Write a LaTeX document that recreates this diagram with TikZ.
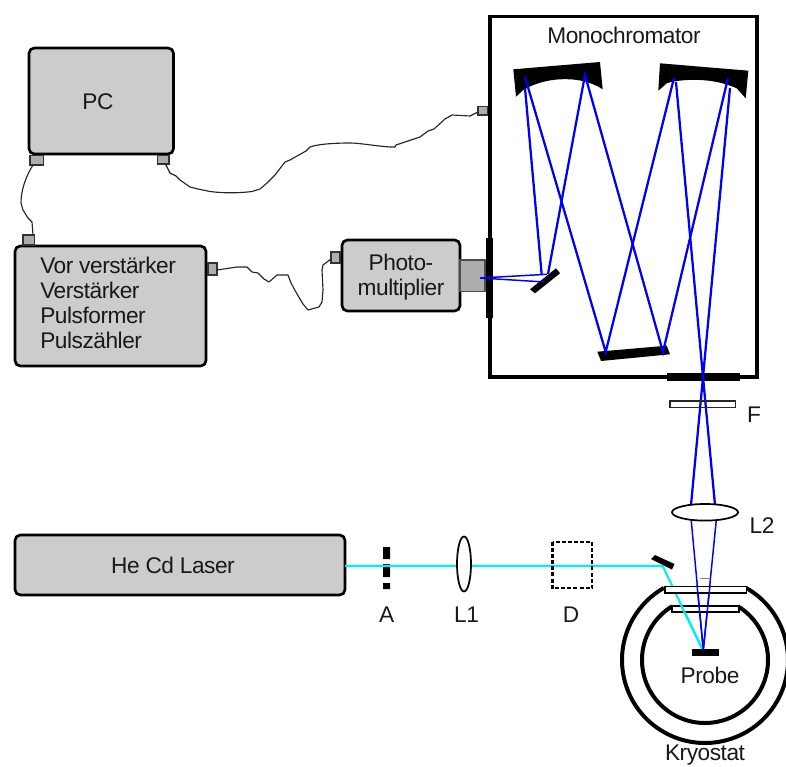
\documentclass[tikz,border=0pt]{standalone}
\usepackage{fontspec}
\setmainfont{Liberation Sans}[LetterSpace=-2]
\definecolor{boxgray}{gray}{0.8}
\definecolor{portgray}{gray}{0.68}
\definecolor{beamblue}{RGB}{0,0,245}
\definecolor{beamcyan}{RGB}{0,240,240}
\tikzset{
  x=0.75pt,y=-0.75pt,
  unit/.style={draw=black,line width=2pt,fill=boxgray,rounded corners=4pt,line join=round},
  port/.style={draw=black!80,line width=1.1pt,fill=portgray},
  cable/.style={draw=black!85,line width=0.85pt,line join=round},
  blue beam/.style={draw=beamblue,line width=1.7pt},
  thin beam/.style={draw=beamblue,line width=1.1pt},
  cyan beam/.style={draw=beamcyan,line width=1.6pt},
  wall/.style={draw=black,line width=2.9pt},
  cryo wall/.style={draw=black,line width=3pt},
  solid part/.style={fill=black,draw=none},
  glass/.style={draw=black,line width=1.3pt,fill=white},
  label/.style={font=\fontsize{17}{20}\selectfont,inner sep=0pt,text=black!90},
}
\begin{document}
\begin{tikzpicture}
\useasboundingbox (0,0) rectangle (786,767);
% beams hidden by later shapes
\draw[thin beam] (691,518) -- (703.3,650) -- (716.5,518);
% units
\filldraw[unit] (29,48) rectangle (173.5,154);
\node[label] (pc) at (98,102) {PC};
\filldraw[unit] (15,246) rectangle (206,366);
\node[label,align=left,anchor=base west,font=\fontsize{17}{18.7}\selectfont] (amp) at (40,348.5) {Vor verstärker\\Verstärker\\Pulsformer\\Pulszähler};
\filldraw[unit] (342,240) rectangle (460,311);
\node[label,align=center,font=\fontsize{17}{18.5}\selectfont] (pm) at (401,277) {Photo-\\multiplier};
\filldraw[unit] (15,535) rectangle (345,595);
\node[label] (laser) at (173,565.5) {He Cd Laser};
% ports
\filldraw[port] (30,155.5) rectangle (43.5,165);
\coordinate (p1c) at (33,165);
\filldraw[port] (157.5,155.5) rectangle (169,164);
\coordinate (p2c) at (165.5,164);
\filldraw[port] (23,235) rectangle (34.5,245);
\coordinate (p3c) at (33,235);
\filldraw[port] (208,263) rectangle (217,275);
\coordinate (p4c) at (217,270);
\filldraw[port] (331,252) rectangle (340,263);
\coordinate (p5c) at (331,259);
\filldraw[port] (478,106.5) rectangle (488,115);
\coordinate (p6c) at (478,112);
% cables
\draw[cable] (p1c) .. controls (26,176) and (21,190) .. (21,203) -- (23,210) -- (28,218) -- (32,222) -- (p3c);
\draw[cable] (p2c) -- (170,173) -- (176,176) -- (180,180) -- (190,187) -- (198,189) -- (210,191.5)
  .. controls (225,193.5) and (240,193) .. (252,191.5) -- (260,189) -- (267,183) -- (275,175) -- (285,162)
  -- (290,160) -- (306,151) -- (310,147) .. controls (318,144) and (335,143) .. (350,143)
  .. controls (360,143) and (375,146) .. (390,147) -- (395,147) -- (396,145) -- (420,137) -- (428,131)
  -- (434,129) -- (445,119) -- (452,115) -- (470,116) -- (p6c);
\draw[cable] (p4c) -- (237,267) -- (247,267) -- (252,272) -- (258,273) -- (264,279) -- (269,282) -- (277,275)
  -- (288,275) -- (291,283) -- (297,294) -- (303,304) -- (308,310) -- (319,307) -- (322,302) -- (323,290)
  -- (322,270) -- (323,265) -- (p5c);
% photomultiplier window
\filldraw[draw=black!70,line width=1pt,fill=portgray] (460,260) rectangle (485,291.5);
% monochromator housing
\draw[wall] (490,16.5) rectangle (757,377);
\fill[black] (486,238) rectangle (492.7,318);
\fill[black] (667,373) rectangle (740,380.7);
\node[label] (mono) at (624,35.5) {Monochromator};
% mirrors
\fill[solid part] (513.3,69.3) -- (600,62) -- (602.7,89.3) .. controls (590,81) and (575,78.5) .. (560,79.3) .. controls (548,80) and (535,83) .. (523.3,90) -- (516,96.7) -- cycle;
\fill[solid part] (660,63.3) -- (748.3,70.7) -- (745.7,98.3) -- (736.7,88.3) .. controls (725,83) and (712,80.5) .. (700,80) .. controls (688,79.5) and (675,80.5) .. (666.7,83.3) -- (658.3,90.7) -- cycle;
\fill[solid part] (530,289.3) -- (556,268.3) -- (560,273.3) -- (535,293.3) -- cycle;
\fill[solid part] (597.3,351.7) -- (666.7,345.7) -- (670,354.3) -- (601,361) -- cycle;
% monochromator beams
\draw[thin beam] (547,274.3) -- (480,278) -- (545,282);
\draw[blue beam] (541.7,275) -- (525,88);
\draw[blue beam] (525,77) -- (605.7,352) -- (674,78);
\draw[blue beam] (548,274) -- (585,75) -- (663,352) -- (728,78);
\draw[blue beam] (676,82) -- (703,377) -- (715,505);
\draw[blue beam] (730,88) -- (703,377) -- (691,505);
% filter and L2
\draw[draw=black!85,line width=0.9pt] (670,401) rectangle (735.7,407.7);
\node[label] (f) at (754,415) {F};
\filldraw[glass] (705,512.3) ellipse [x radius=33,y radius=8.3];
\node[label] (l2) at (762,526) {L2};
% laser path
\fill[black] (383,547) rectangle (390,559) (383,564) rectangle (390,577) (383,583) rectangle (390,589);
\draw[cyan beam] (345,566) -- (662.7,566) -- (703.3,651);
\filldraw[glass] (464,564) ellipse [x radius=7,y radius=27.5];
\draw[draw=black,line width=1.6pt,dash pattern=on 3pt off 1.6pt] (552.5,541.7) rectangle (592.3,588.3);
\node[label] (a) at (386.7,614.5) {A};
\node[label] (l1) at (466.5,614.5) {L1};
\node[label] (d) at (571,615) {D};
\fill[solid part] (651,559) -- (655,555) -- (674.5,564) -- (672,569.5) -- cycle;
\draw[draw=black!50,line width=0.5pt] (700,578.3) -- (710,578.3);
% cryostat
\draw[cryo wall] ([shift={(-60.3:83)}]705,660) arc [start angle=-60.3,end angle=240.3,radius=83];
\draw[cryo wall] ([shift={(-58.4:63)}]705,660) arc [start angle=-58.4,end angle=238.4,radius=63];
\filldraw[glass] (665,586.5) rectangle (746.5,593);
\filldraw[glass] (672,606) rectangle (739,612);
\draw[cyan beam] (680,603) -- (703.3,651);
\draw[thin beam] (697,585) -- (703.3,650) -- (710,585);
\fill[black] (692,649.3) rectangle (719,655.7);
\node[label] (probe) at (710,675) {Probe};
\node[label] (kryo) at (705,755) {Kryostat};
\end{tikzpicture}
\end{document}
